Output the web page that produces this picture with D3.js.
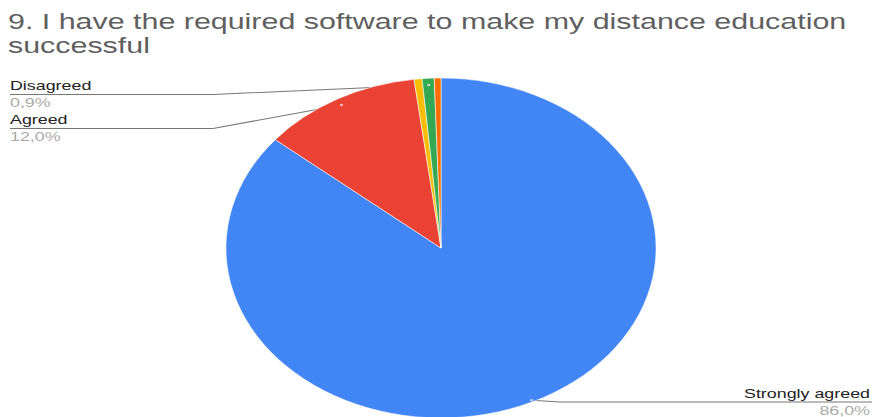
<!DOCTYPE html>
<html>
<head>
<meta charset="utf-8">
<script src="https://cdn.jsdelivr.net/npm/d3@7"></script>
<style>
  html, body { margin: 0; padding: 0; background: #fff; }
  svg { display: block; font-family: Arial, "Liberation Sans", sans-serif; }
</style>
</head>
<body>
<svg id="chart" width="872" height="417"></svg>
<script>
// Survey answers for question 9
const titleLines = ["9. I have the required software to make my distance education", "successful"];
const categories = ["Strongly agreed", "Agreed", "Undecided", "Disagreed", "Strongly disagreed"];
const values = [86.0, 12.0, 0.6, 0.9, 0.5];
const colors = ["#4285F4", "#EA4335", "#FBBC04", "#34A853", "#FF6D01"];
const labelled = ["Strongly agreed", "Agreed", "Disagreed"];

const W = 872, H = 417;
const sx = 1.265;            // horizontal stretch of the pie and lines
const sxLabel = sx * 1.085;  // stretch of the slice labels
const sxTitle = sx * 1.093;  // stretch of the title
const svg = d3.select("#chart");
const g = svg.append("g").attr("transform", `scale(${sx},1)`);

const cx = 441 / sx, cy = 248, r = 170;
const fmt = v => d3.format(".1f")(v).replace(".", ",") + "%";

// Title
svg.append("g").attr("transform", `scale(${sxTitle},1)`)
  .selectAll("text").data(titleLines).join("text")
  .attr("x", 8 / sxTitle)
  .attr("y", (d, i) => 29 + i * 24)
  .attr("font-size", 22)
  .attr("fill", "#5f5f5f")
  .text(d => d);

const data = categories.map((c, i) => ({ name: c, value: values[i], color: colors[i] }));
const pie = d3.pie().sort(null).value(d => d.value).startAngle(0).endAngle(2 * Math.PI);
const arcs = pie(data);
const arc = d3.arc().innerRadius(0).outerRadius(r);
const dotR = { "Strongly agreed": 0.99, "Agreed": 0.96, "Disagreed": 0.96 };
const dotPos = a => {
  const m = (a.startAngle + a.endAngle) / 2, k = r * (dotR[a.data.name] || 0.96);
  return [cx + Math.sin(m) * k, cy - Math.cos(m) * k];
};

// Leader lines sit under the pie
const layout = {
  "Disagreed":       { side: "left",  lineY: 94.5, elbowX: 213 / sx },
  "Agreed":          { side: "left",  lineY: 128.5, elbowX: 213 / sx },
  "Strongly agreed": { side: "right", lineY: 402, elbowX: 560 / sx }
};
const shown = arcs.filter(a => labelled.includes(a.data.name));
const lines = g.append("g");
shown.forEach(a => {
  const L = layout[a.data.name], p = dotPos(a);
  const endX = L.side === "left" ? 10 / sx : W / sx;
  lines.append("path")
    .attr("d", d3.line()([p, [L.elbowX, L.lineY], [endX, L.lineY]]))
    .attr("fill", "none")
    .attr("stroke", "#777")
    .attr("stroke-width", 1);
});

// Slices
g.append("g").attr("transform", `translate(${cx},${cy})`)
  .selectAll("path").data(arcs).join("path")
  .attr("d", arc)
  .attr("fill", d => d.data.color)
  .attr("stroke", "#fff")
  .attr("stroke-width", 0.5);

// Small light dots on labelled slices
g.append("g").selectAll("circle").data(shown).join("circle")
  .attr("cx", d => dotPos(d)[0])
  .attr("cy", d => dotPos(d)[1])
  .attr("r", 1.3)
  .attr("fill", "#fff")
  .attr("fill-opacity", 0.6);

// Labels: name above the line, value below it
const lab = svg.append("g").attr("transform", `scale(${sxLabel},1)`);
shown.forEach(a => {
  const L = layout[a.data.name];
  const x = (L.side === "left" ? 10 : 870) / sxLabel;
  const anchor = L.side === "left" ? "start" : "end";
  lab.append("text").attr("x", x).attr("y", L.lineY - 4)
    .attr("text-anchor", anchor).attr("font-size", 13).attr("fill", "#222")
    .text(a.data.name);
  lab.append("text").attr("x", x).attr("y", L.lineY + 13)
    .attr("text-anchor", anchor).attr("font-size", 13).attr("fill", "#aaa")
    .text(fmt(a.data.value));
});
</script>
</body>
</html>
